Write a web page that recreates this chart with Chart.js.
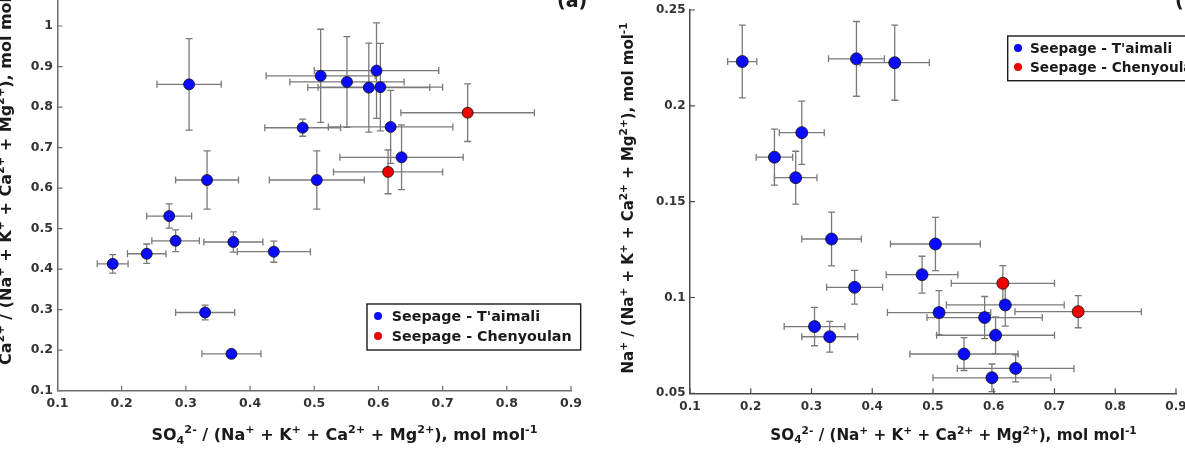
<!DOCTYPE html>
<html>
<head>
<meta charset="utf-8">
<script src="https://cdn.jsdelivr.net/npm/chart.js@4.4.1/dist/chart.umd.min.js"></script>
<style>
  html, body { margin: 0; padding: 0; background: #fff; overflow: hidden; }
  #wrap { position: relative; width: 1185px; height: 455px; overflow: hidden; }
  #left { position: absolute; left: 0; top: -30px; }
  #right { position: absolute; left: 590px; top: 0; }
</style>
</head>
<body>
<div id="wrap">
  <canvas id="left" width="590" height="485"></canvas>
  <canvas id="right" width="595" height="455"></canvas>
</div>
<script>
// sample ratios (same 19 T'aimali samples in both panels)
const sulfX     = [0.186, 0.239, 0.274, 0.284, 0.305, 0.333, 0.330, 0.371, 0.374, 0.437, 0.482, 0.504, 0.510, 0.551, 0.585, 0.597, 0.603, 0.619, 0.636];
const sulfXErr  = [0.024, 0.030, 0.035, 0.037, 0.050, 0.049, 0.046, 0.046, 0.046, 0.057, 0.059, 0.074, 0.085, 0.089, 0.095, 0.097, 0.097, 0.097, 0.096];
const caRatio   = [0.413, 0.438, 0.531, 0.470, 0.856, 0.620, 0.293, 0.191, 0.467, 0.443, 0.749, 0.620, 0.877, 0.862, 0.848, 0.890, 0.849, 0.751, 0.676];
const caErr     = [0.023, 0.024, 0.030, 0.027, 0.113, 0.072, 0.018, 0.005, 0.025, 0.026, 0.021, 0.072, 0.115, 0.112, 0.110, 0.118, 0.108, 0.090, 0.080];
const naRatio   = [0.2231, 0.1732, 0.1625, 0.1860, 0.0848, 0.1305, 0.0795, 0.1053, 0.2245, 0.2225, 0.1119, 0.1279, 0.0921, 0.0705, 0.0895, 0.0581, 0.0803, 0.0961, 0.0630];
const naErr     = [0.0190, 0.0146, 0.0138, 0.0165, 0.0100, 0.0140, 0.0080, 0.0088, 0.0195, 0.0196, 0.0096, 0.0139, 0.0115, 0.0086, 0.0110, 0.0072, 0.0096, 0.0110, 0.0070];

// Chenyoulan samples
const chenX     = [0.615, 0.739];
const chenXErr  = [0.085, 0.104];
const chenCa    = [0.640, 0.786];
const chenCaErr = [0.054, 0.071];
const chenNa    = [0.1074, 0.0926];
const chenNaErr = [0.0092, 0.0084];

const seriesNames = ["Seepage - T'aimali", "Seepage - Chenyoulan"];

// tick labels
const xTicks  = [0.1, 0.2, 0.3, 0.4, 0.5, 0.6, 0.7, 0.8, 0.9];
const yTicksA = [0.1, 0.2, 0.3, 0.4, 0.5, 0.6, 0.7, 0.8, 0.9, 1.0, 1.1];
const yTicksB = [0.05, 0.1, 0.15, 0.2, 0.25];

const xTitle  = "SO_{4}^{2-} / (Na^{+} + K^{+} + Ca^{2+} + Mg^{2+}), mol mol^{-1}";
const yTitleA = "Ca^{2+} / (Na^{+} + K^{+} + Ca^{2+} + Mg^{2+}), mol mol^{-1}";
const yTitleB = "Na^{+} / (Na^{+} + K^{+} + Ca^{2+} + Mg^{2+}), mol mol^{-1}";

const FONT = "DejaVu Sans";
const BLUE = "#0a0aff";
const RED = "#f00000";

function pts(xs, xe, ys, ye) {
  return xs.map((v, i) => ({ x: v, y: ys[i], xErr: xe[i], yErr: ye[i] }));
}

const fmt = v => String(+(+v).toFixed(3));

// split "a^{b}c_{d}" into runs
function parseRich(s) {
  const out = [];
  const re = /([\^_])\{([^}]*)\}/g;
  let last = 0, m;
  while ((m = re.exec(s))) {
    if (m.index > last) out.push({ t: s.slice(last, m.index), k: "" });
    out.push({ t: m[2], k: m[1] === "^" ? "sup" : "sub" });
    last = re.lastIndex;
  }
  if (last < s.length) out.push({ t: s.slice(last), k: "" });
  return out;
}

function drawRich(ctx, s, size) {
  const runs = parseRich(s);
  const big = "bold " + size + "px '" + FONT + "'";
  const small = "bold " + (size * 0.7).toFixed(1) + "px '" + FONT + "'";
  let w = 0;
  runs.forEach(r => { ctx.font = r.k ? small : big; r.w = ctx.measureText(r.t).width; w += r.w; });
  let cx = -w / 2;
  ctx.textAlign = "left";
  ctx.textBaseline = "alphabetic";
  runs.forEach(r => {
    ctx.font = r.k ? small : big;
    const dy = r.k === "sup" ? -size * 0.42 : r.k === "sub" ? size * 0.22 : 0;
    ctx.fillText(r.t, cx, dy);
    cx += r.w;
  });
}

const panelPlugin = {
  id: "panel",
  beforeDatasetsDraw(chart) {
    const o = chart.options.plugins.panel;
    const { ctx } = chart;
    const xs = chart.scales.x, ys = chart.scales.y;
    ctx.save();
    ctx.strokeStyle = o.errColor;
    ctx.lineWidth = 1.3;
    const cap = 3.5;
    chart.data.datasets.forEach(ds => {
      ds.data.forEach(p => {
        const px = xs.getPixelForValue(p.x), py = ys.getPixelForValue(p.y);
        const x0 = xs.getPixelForValue(p.x - p.xErr), x1 = xs.getPixelForValue(p.x + p.xErr);
        const y0 = ys.getPixelForValue(p.y - p.yErr), y1 = ys.getPixelForValue(p.y + p.yErr);
        ctx.beginPath();
        ctx.moveTo(x0, py); ctx.lineTo(x1, py);
        ctx.moveTo(x0, py - cap); ctx.lineTo(x0, py + cap);
        ctx.moveTo(x1, py - cap); ctx.lineTo(x1, py + cap);
        ctx.moveTo(px, y0); ctx.lineTo(px, y1);
        ctx.moveTo(px - cap, y0); ctx.lineTo(px + cap, y0);
        ctx.moveTo(px - cap, y1); ctx.lineTo(px + cap, y1);
        ctx.stroke();
      });
    });
    ctx.restore();
  },
  afterDraw(chart) {
    const o = chart.options.plugins.panel;
    const { ctx, chartArea } = chart;
    const xs = chart.scales.x, ys = chart.scales.y;
    ctx.save();
    // inward tick marks
    ctx.strokeStyle = o.axisColor;
    ctx.lineWidth = 1.2;
    ctx.beginPath();
    xs.ticks.forEach(t => {
      const px = xs.getPixelForValue(t.value);
      ctx.moveTo(px, chartArea.bottom); ctx.lineTo(px, chartArea.bottom - 5);
    });
    ys.ticks.forEach(t => {
      const py = ys.getPixelForValue(t.value);
      ctx.moveTo(chartArea.left, py); ctx.lineTo(chartArea.left + 5, py);
    });
    ctx.stroke();

    ctx.fillStyle = "#1a1a1a";
    // x title
    ctx.save();
    ctx.translate(o.xTitlePos[0], o.xTitlePos[1]);
    drawRich(ctx, o.xTitle, o.xTitleSize);
    ctx.restore();
    // y title
    ctx.save();
    ctx.translate(o.yTitlePos[0], o.yTitlePos[1]);
    ctx.rotate(-Math.PI / 2);
    drawRich(ctx, o.yTitle, o.yTitleSize);
    ctx.restore();

    // panel letter
    ctx.font = "bold " + o.tagSize + "px '" + FONT + "'";
    ctx.textAlign = "left";
    ctx.textBaseline = "alphabetic";
    ctx.fillText(o.tag, o.tagPos[0], o.tagPos[1]);

    // legend
    const L = o.legend;
    ctx.font = "bold " + L.size + "px '" + FONT + "'";
    let tw = 0;
    chart.data.datasets.forEach(ds => { tw = Math.max(tw, ctx.measureText(ds.label).width); });
    const bw = (L.textX - L.x) + tw + 9;
    ctx.fillStyle = "#fff";
    ctx.fillRect(L.x, L.y, bw, L.h);
    ctx.strokeStyle = "#1a1a1a";
    ctx.lineWidth = 1.4;
    ctx.strokeRect(L.x, L.y, bw, L.h);
    chart.data.datasets.forEach((ds, i) => {
      const cy = L.rowY[i];
      ctx.beginPath();
      ctx.arc(L.dotX, cy, 4, 0, Math.PI * 2);
      ctx.fillStyle = ds.backgroundColor;
      ctx.fill();
      ctx.fillStyle = "#1a1a1a";
      ctx.fillText(ds.label, L.textX, cy + 5);
    });
    ctx.restore();
  }
};

function makeChart(canvas, cfg) {
  const tickFont = { family: FONT, size: cfg.tickSize, weight: "bold" };
  return new Chart(canvas, {
    type: "scatter",
    plugins: [panelPlugin],
    data: {
      datasets: [
        { label: seriesNames[0], data: cfg.blue, backgroundColor: BLUE, pointBorderColor: "#111", pointBorderWidth: 0.8, pointRadius: cfg.r },
        { label: seriesNames[1], data: cfg.red, backgroundColor: RED, pointBorderColor: "#111", pointBorderWidth: 0.8, pointRadius: cfg.r }
      ]
    },
    options: {
      responsive: false,
      animation: false,
      layout: { padding: { left: 0, top: cfg.padTop, right: cfg.padRight, bottom: 0 } },
      scales: {
        x: {
          type: "linear", min: 0.1, max: 0.9,
          afterBuildTicks: s => { s.ticks = xTicks.map(v => ({ value: v })); },
          afterFit: s => { s.height = cfg.xHeight; s.paddingLeft = 0; s.paddingRight = 0; },
          grid: { display: false, drawTicks: false },
          border: { display: true, color: cfg.axisColor, width: 1.5 },
          ticks: { font: tickFont, color: "#333", padding: 6, maxRotation: 0, autoSkip: false, callback: v => fmt(v) }
        },
        y: {
          type: "linear", min: cfg.yTicks[0], max: cfg.yTicks[cfg.yTicks.length - 1],
          afterBuildTicks: s => { s.ticks = cfg.yTicks.map(v => ({ value: v })); },
          afterFit: s => { s.width = cfg.yWidth; s.paddingTop = 0; s.paddingBottom = 0; },
          grid: { display: false, drawTicks: false },
          border: { display: true, color: cfg.axisColor, width: 1.5 },
          ticks: { font: tickFont, color: "#333", padding: 4.5, autoSkip: false, callback: v => fmt(v) }
        }
      },
      plugins: {
        legend: { display: false },
        tooltip: { enabled: false },
        panel: cfg.panel
      }
    }
  });
}

// panel (a): canvas sits 30px above the page top, so the axis runs off the top edge
makeChart(document.getElementById("left"), {
  blue: pts(sulfX, sulfXErr, caRatio, caErr),
  red: pts(chenX, chenXErr, chenCa, chenCaErr),
  yTicks: yTicksA,
  tickSize: 12.5, r: 5.5,
  padTop: 15.5, padRight: 19, yWidth: 57.5, xHeight: 64.3,
  axisColor: "#6e6e6e",
  panel: {
    errColor: "#7a7a7a", axisColor: "#6e6e6e",
    xTitle: xTitle, xTitlePos: [344.5, 470], xTitleSize: 16,
    yTitle: yTitleA, yTitlePos: [11, 204.7], yTitleSize: 16,
    tag: "(a)", tagPos: [557, 37], tagSize: 19,
    legend: { x: 367, y: 334, h: 46, dotX: 378, textX: 391.7, rowY: [346, 366], size: 14.3 }
  }
});

makeChart(document.getElementById("right"), {
  blue: pts(sulfX, sulfXErr, naRatio, naErr),
  red: pts(chenX, chenXErr, chenNa, chenNaErr),
  yTicks: yTicksB,
  tickSize: 12, r: 6,
  padTop: 10, padRight: 9, yWidth: 100, xHeight: 61.7,
  axisColor: "#4a4a4a",
  panel: {
    errColor: "#7a7a7a", axisColor: "#4a4a4a",
    xTitle: xTitle, xTitlePos: [363.5, 440], xTitleSize: 15.2,
    yTitle: yTitleB, yTitlePos: [43, 198], yTitleSize: 15,
    tag: "(b)", tagPos: [585, 7], tagSize: 19,
    legend: { x: 417.7, y: 36, h: 44.7, dotX: 428, textX: 440, rowY: [48, 67], size: 13.7 }
  }
});
</script>
</body>
</html>
